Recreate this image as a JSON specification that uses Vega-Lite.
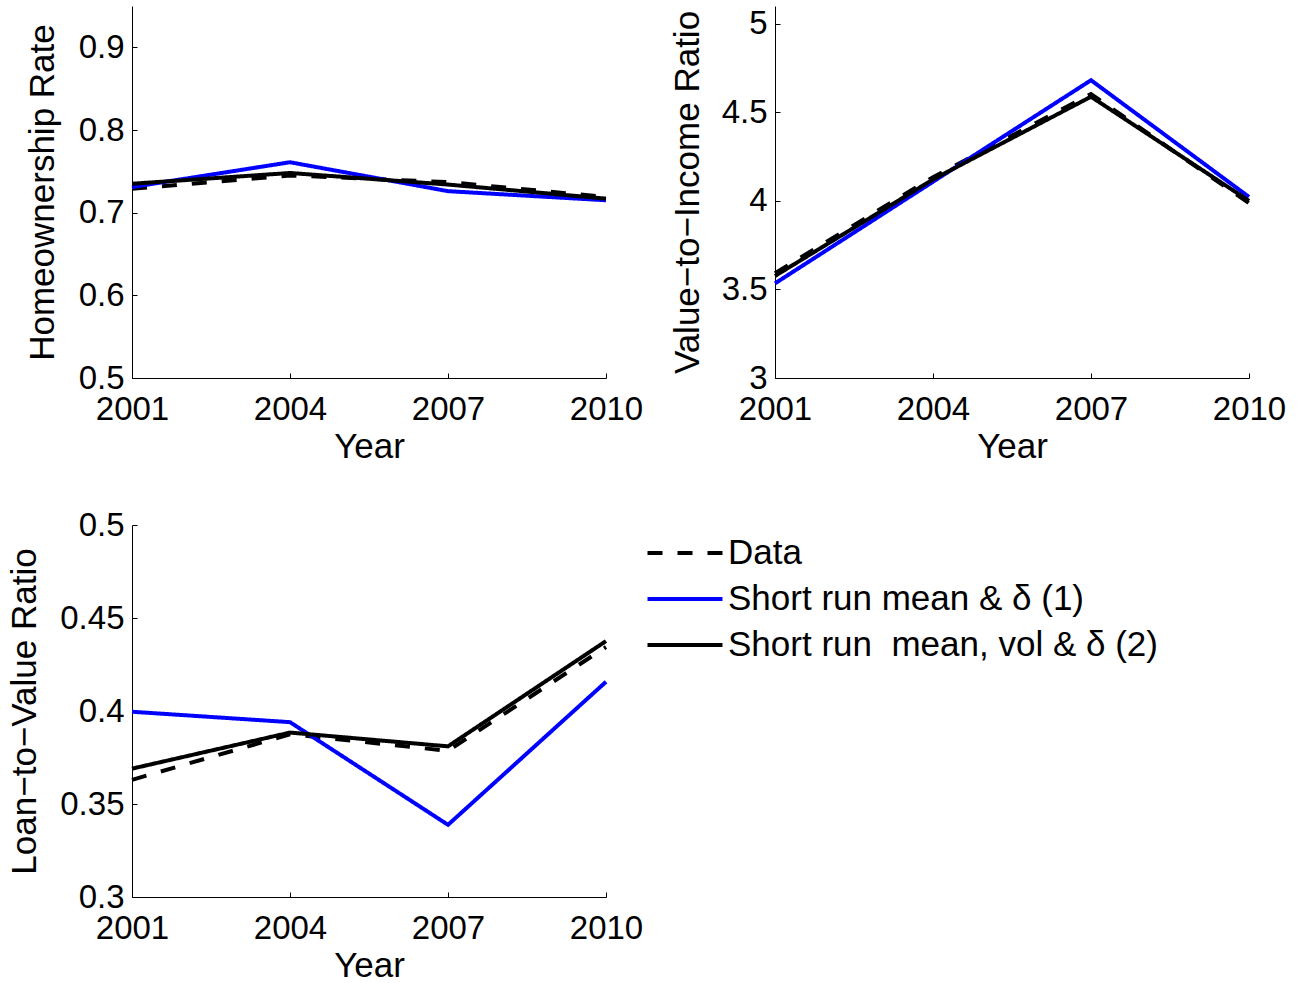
{
  "$schema": "https://vega.github.io/schema/vega-lite/v6.json",
  "background": "white",
  "padding": {"left": 6, "top": 6, "right": 0, "bottom": 0},
  "config": {
    "view": {"stroke": null},
    "font": "Liberation Sans",
    "axis": {
      "grid": false,
      "domainColor": "black",
      "domainWidth": 1,
      "tickColor": "black",
      "tickWidth": 1,
      "tickSize": -5,
      "labelFont": "Liberation Sans",
      "titleFont": "Liberation Sans",
      "labelFontSize": 33,
      "titleFontSize": 35,
      "titleFontWeight": "normal",
      "labelColor": "black",
      "titleColor": "black",
      "labelFlush": false,
      "labelOverlap": false,
      "labelBound": false
    },
    "axisX": {"labelBaseline": "alphabetic", "labelPadding": 46, "titleBaseline": "alphabetic", "titleY": 79},
    "axisY": {"labelPadding": 13, "titleBaseline": "alphabetic", "titleAngle": -90}
  },
  "datasets": {
    "d": [
      {"panel": "HO", "year": 2001, "series": "Data", "value": 0.729},
      {"panel": "HO", "year": 2004, "series": "Data", "value": 0.745},
      {"panel": "HO", "year": 2007, "series": "Data", "value": 0.737},
      {"panel": "HO", "year": 2010, "series": "Data", "value": 0.719},
      {"panel": "HO", "year": 2001, "series": "Short run mean & δ (1)", "value": 0.731},
      {"panel": "HO", "year": 2004, "series": "Short run mean & δ (1)", "value": 0.761},
      {"panel": "HO", "year": 2007, "series": "Short run mean & δ (1)", "value": 0.726},
      {"panel": "HO", "year": 2010, "series": "Short run mean & δ (1)", "value": 0.715},
      {"panel": "HO", "year": 2001, "series": "Short run\u00a0 mean, vol & δ (2)", "value": 0.735},
      {"panel": "HO", "year": 2004, "series": "Short run\u00a0 mean, vol & δ (2)", "value": 0.748},
      {"panel": "HO", "year": 2007, "series": "Short run\u00a0 mean, vol & δ (2)", "value": 0.734},
      {"panel": "HO", "year": 2010, "series": "Short run\u00a0 mean, vol & δ (2)", "value": 0.717},
      {"panel": "VI", "year": 2001, "series": "Data", "value": 3.592},
      {"panel": "VI", "year": 2004, "series": "Data", "value": 4.134},
      {"panel": "VI", "year": 2007, "series": "Data", "value": 4.603},
      {"panel": "VI", "year": 2010, "series": "Data", "value": 3.987},
      {"panel": "VI", "year": 2001, "series": "Short run mean & δ (1)", "value": 3.534},
      {"panel": "VI", "year": 2004, "series": "Short run mean & δ (1)", "value": 4.108},
      {"panel": "VI", "year": 2007, "series": "Short run mean & δ (1)", "value": 4.681},
      {"panel": "VI", "year": 2010, "series": "Short run mean & δ (1)", "value": 4.022},
      {"panel": "VI", "year": 2001, "series": "Short run\u00a0 mean, vol & δ (2)", "value": 3.576},
      {"panel": "VI", "year": 2004, "series": "Short run\u00a0 mean, vol & δ (2)", "value": 4.121},
      {"panel": "VI", "year": 2007, "series": "Short run\u00a0 mean, vol & δ (2)", "value": 4.588},
      {"panel": "VI", "year": 2010, "series": "Short run\u00a0 mean, vol & δ (2)", "value": 4.0},
      {"panel": "LTV", "year": 2001, "series": "Data", "value": 0.363},
      {"panel": "LTV", "year": 2004, "series": "Data", "value": 0.3875},
      {"panel": "LTV", "year": 2007, "series": "Data", "value": 0.3786},
      {"panel": "LTV", "year": 2010, "series": "Data", "value": 0.4344},
      {"panel": "LTV", "year": 2001, "series": "Short run mean & δ (1)", "value": 0.3996},
      {"panel": "LTV", "year": 2004, "series": "Short run mean & δ (1)", "value": 0.394},
      {"panel": "LTV", "year": 2007, "series": "Short run mean & δ (1)", "value": 0.3388},
      {"panel": "LTV", "year": 2010, "series": "Short run mean & δ (1)", "value": 0.4157},
      {"panel": "LTV", "year": 2001, "series": "Short run\u00a0 mean, vol & δ (2)", "value": 0.369},
      {"panel": "LTV", "year": 2004, "series": "Short run\u00a0 mean, vol & δ (2)", "value": 0.3884},
      {"panel": "LTV", "year": 2007, "series": "Short run\u00a0 mean, vol & δ (2)", "value": 0.381},
      {"panel": "LTV", "year": 2010, "series": "Short run\u00a0 mean, vol & δ (2)", "value": 0.4376}
    ]
  },
  "data": {"name": "d"},
  "columns": 2,
  "spacing": {"row": 147, "column": 169},
  "bounds": "flush",
  "resolve": {"scale": {"color": "independent", "strokeDash": "independent"}},
  "concat": [
    {
      "width": 474,
      "height": 372,
      "transform": [{"filter": "datum.panel === 'HO'"}],
      "mark": {"type": "line", "strokeWidth": 4},
      "encoding": {
        "x": {"field": "year", "type": "quantitative", "scale": {"domain": [2001, 2010], "nice": false, "zero": false}, "axis": {"values": [2001, 2004, 2007, 2010], "format": "d", "title": "Year"}},
        "y": {"field": "value", "type": "quantitative", "scale": {"domain": [0.5, 0.95], "nice": false, "zero": false}, "axis": {"values": [0.5, 0.6, 0.7, 0.8, 0.9], "format": "~g", "title": "Homeownership Rate", "titleX": -79}},
        "color": {"field": "series", "type": "nominal", "scale": {"domain": ["Data", "Short run mean & δ (1)", "Short run\u00a0 mean, vol & δ (2)"], "range": ["#000000", "#0000ff", "#000000"]}, "legend": null},
        "strokeDash": {"field": "series", "type": "nominal", "scale": {"domain": ["Data", "Short run mean & δ (1)", "Short run\u00a0 mean, vol & δ (2)"], "range": [[15, 15], [1, 0], [1, 0]]}, "legend": null}
      }
    },
    {
      "width": 474,
      "height": 372,
      "transform": [{"filter": "datum.panel === 'VI'"}],
      "mark": {"type": "line", "strokeWidth": 4},
      "encoding": {
        "x": {"field": "year", "type": "quantitative", "scale": {"domain": [2001, 2010], "nice": false, "zero": false}, "axis": {"values": [2001, 2004, 2007, 2010], "format": "d", "title": "Year"}},
        "y": {"field": "value", "type": "quantitative", "scale": {"domain": [3, 5.1], "nice": false, "zero": false}, "axis": {"values": [3, 3.5, 4, 4.5, 5], "format": "~g", "title": "Value−to−Income Ratio", "titleX": -77}},
        "color": {"field": "series", "type": "nominal", "scale": {"domain": ["Data", "Short run mean & δ (1)", "Short run\u00a0 mean, vol & δ (2)"], "range": ["#000000", "#0000ff", "#000000"]}, "legend": null},
        "strokeDash": {"field": "series", "type": "nominal", "scale": {"domain": ["Data", "Short run mean & δ (1)", "Short run\u00a0 mean, vol & δ (2)"], "range": [[15, 15], [1, 0], [1, 0]]}, "legend": null}
      }
    },
    {
      "width": 474,
      "height": 372,
      "transform": [{"filter": "datum.panel === 'LTV'"}],
      "mark": {"type": "line", "strokeWidth": 4},
      "encoding": {
        "x": {"field": "year", "type": "quantitative", "scale": {"domain": [2001, 2010], "nice": false, "zero": false}, "axis": {"values": [2001, 2004, 2007, 2010], "format": "d", "title": "Year"}},
        "y": {"field": "value", "type": "quantitative", "scale": {"domain": [0.3, 0.5], "nice": false, "zero": false}, "axis": {"values": [0.3, 0.35, 0.4, 0.45, 0.5], "format": "~g", "title": "Loan−to−Value Ratio", "titleX": -97}},
        "color": {"field": "series", "type": "nominal", "scale": {"domain": ["Data", "Short run mean & δ (1)", "Short run\u00a0 mean, vol & δ (2)"], "range": ["#000000", "#0000ff", "#000000"]}, "legend": {"orient": "none", "legendX": 532, "legendY": 7, "title": null, "symbolType": "M-2,0H2", "symbolSize": 1406, "symbolStrokeWidth": 4, "labelFontSize": 35, "labelFont": "Liberation Sans", "labelColor": "black", "labelOffset": 22, "labelLimit": 0, "rowPadding": 7}},
        "strokeDash": {"field": "series", "type": "nominal", "scale": {"domain": ["Data", "Short run mean & δ (1)", "Short run\u00a0 mean, vol & δ (2)"], "range": [[15, 15], [1, 0], [1, 0]]}, "legend": {"orient": "none", "legendX": 532, "legendY": 7, "title": null, "symbolType": "M-2,0H2", "symbolSize": 1406, "symbolStrokeWidth": 4, "labelFontSize": 35, "labelFont": "Liberation Sans", "labelColor": "black", "labelOffset": 22, "labelLimit": 0, "rowPadding": 7}}
      }
    }
  ]
}
